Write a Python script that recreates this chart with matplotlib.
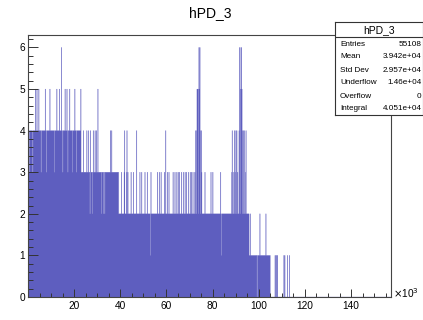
import numpy as np
import matplotlib
matplotlib.use("Agg")
import matplotlib.pyplot as plt
from matplotlib.ticker import MultipleLocator, FixedLocator

plt.rcParams['font.family'] = ['Liberation Sans', 'DejaVu Sans']

# ---------------- data (x in units of 10^3) ----------------
bin_width_k = 0.2
x_max_k = 158.0

# dense "floor" level of the histogram, piecewise
floor_edges_k = [0.0, 23.0, 39.1, 95.8, 105.0]
floor_levels = [4, 3, 2, 1]

# single bins dipping below the floor (x_k, count)
dip_x_k = [0.6, 2.1, 5.7, 7.8, 11.4, 15.0, 17.3, 19.4, 20.9,
           26.9, 27.8, 31.9, 32.6, 33.4, 53.0, 61.1, 83.9, 99.3]
dip_counts = [3, 3, 3, 3, 3, 3, 3, 3, 3,
              2, 2, 2, 2, 2, 1, 1, 1, 0]

# single bins rising above the floor (x_k, count)
spike_x_k = [3.3, 3.9, 4.8, 7.4, 9.6, 12.6, 13.7, 14.5, 16.1, 16.9, 18.0, 20.4, 22.8, 30.4,
             24.0, 25.5, 26.3, 27.0, 28.3, 29.1, 29.7, 35.7, 36.4, 41.9, 42.9, 47.0, 59.6,
             39.4, 40.5, 41.7, 42.7, 43.4, 44.6, 45.6, 48.5, 49.2, 50.6, 51.8, 53.3,
             56.1, 56.9, 57.8, 59.0, 60.5, 61.1, 62.9, 63.7, 64.4, 65.1, 65.8, 66.5,
             67.3, 68.0, 68.7, 69.4, 70.2, 70.9, 71.6, 72.3, 76.7, 79.3, 80.1, 83.4,
             88.3, 88.9, 89.8, 90.5, 90.9, 93.7, 94.2, 94.6,
             72.8, 73.0, 73.2, 73.4, 73.6, 73.8, 74.0, 74.2, 74.4, 74.6, 74.8, 75.0, 75.2,
             88.6, 89.4, 90.0, 90.6, 93.8, 94.4,
             91.4, 91.6, 91.8, 92.0, 92.2, 92.4, 92.6, 92.8, 93.0, 93.2,
             96.3, 100.5, 103.0,
             107.0, 107.4, 107.8, 108.0, 110.8, 111.2, 112.6, 113.2]
spike_counts = [5, 5, 5, 5, 5, 5, 5, 6, 5, 5, 5, 5, 5, 5,
                4, 4, 4, 4, 4, 4, 4, 4, 4, 4, 4, 4, 4,
                3, 3, 3, 3, 3, 3, 3, 3, 3, 3, 3, 3,
                3, 3, 3, 3, 3, 3, 3, 3, 3, 3, 3, 3,
                3, 3, 3, 3, 3, 3, 3, 3, 3, 3, 3, 3,
                3, 3, 3, 3, 3, 3, 3, 3,
                4, 4, 5, 4, 5, 5, 6, 5, 6, 5, 4, 4, 3,
                4, 4, 4, 4, 4, 4,
                4, 4, 6, 5, 6, 6, 5, 5, 4, 4,
                2, 2, 2,
                1, 1, 1, 1, 1, 1, 1, 1]

stats_names = ["Entries", "Mean", "Std Dev", "Underflow", "Overflow", "Integral"]
stats_values = ["55108", "3.942e+04", "2.957e+04", "1.46e+04", "0", "4.051e+04"]
title = "hPD_3"
x_tick_labels = [20, 40, 60, 80, 100, 120, 140]

# ---------------- build bins ----------------
nb = int(round(x_max_k / bin_width_k))
edges = np.linspace(0, x_max_k, nb + 1)
centers = 0.5 * (edges[:-1] + edges[1:])
counts = np.zeros(nb)
for a, b, lv in zip(floor_edges_k[:-1], floor_edges_k[1:], floor_levels):
    counts[(centers >= a) & (centers < b)] = lv
for x, c in zip(dip_x_k, dip_counts):
    counts[int(x / bin_width_k)] = c
for x, c in zip(spike_x_k, spike_counts):
    i = int(x / bin_width_k)
    counts[i] = max(counts[i], c)

# ---------------- figure ----------------
W, H = 423, 320
fig = plt.figure(figsize=(W / 100, H / 100), dpi=100)
L, R, T, B = 28, 391, 35, 297
ax = fig.add_axes([L / W, 1 - B / H, (R - L) / W, (B - T) / H])

fill_c = '#5e5ebf'
ax.stairs(counts, edges, fill=True, color=fill_c, lw=0)
ax.stairs(counts, edges, color='#5555bb', lw=0.15)

ax.set_xlim(0, 157.3)
ax.set_ylim(0, 6.3)

ax.xaxis.set_major_locator(FixedLocator(x_tick_labels))
ax.set_xticklabels([str(v) for v in x_tick_labels])
ax.xaxis.set_minor_locator(FixedLocator([v for v in np.arange(5, 157, 5) if v % 20 != 0]))
ax.yaxis.set_major_locator(MultipleLocator(1))
ax.yaxis.set_minor_locator(MultipleLocator(0.2))
ax.tick_params(axis='both', which='both', direction='in', labelsize=7.3,
               color='#333333', width=0.7, top=False, right=False)
ax.tick_params(axis='y', which='major', length=7.2, pad=2)
ax.tick_params(axis='y', which='minor', length=3.6)
ax.tick_params(axis='x', which='major', length=5.5, pad=3)
ax.tick_params(axis='x', which='minor', length=2.7)
for s in ax.spines.values():
    s.set_linewidth(0.8)
    s.set_color('#444444')

fig.text(393 / W, 1 - 293 / H, r'$\times$10$^{3}$', fontsize=7.3, ha='left', va='center')
fig.text(210 / W, 1 - 13 / H, title, fontsize=10, ha='center', va='center')

# ---------------- stats box ----------------
bx0, bx1, by0, by1 = 335, 422.5, 22, 115
sax = fig.add_axes([bx0 / W, 1 - by1 / H, (bx1 - bx0) / W, (by1 - by0) / H])
sax.set_xlim(0, bx1 - bx0)
sax.set_ylim(by1 - by0, 0)
sax.set_xticks([])
sax.set_yticks([])
sax.patch.set_facecolor('white')
for s in sax.spines.values():
    s.set_linewidth(0.8)
    s.set_color('#333333')
sax.axhline(37 - by0, color='#333333', lw=0.8)
sax.text((bx1 - bx0) / 2, 30 - by0, title, fontsize=7.5, ha='center', va='center')
row_y = [44, 57, 70, 83, 96, 108.5]
for name, val, yy in zip(stats_names, stats_values, row_y):
    sax.text(340 - bx0, yy - by0, name, fontsize=5.9, ha='left', va='center')
    sax.text(421.5 - bx0, yy - by0, val, fontsize=5.9, ha='right', va='center')

fig.savefig('out.png', dpi=100)
